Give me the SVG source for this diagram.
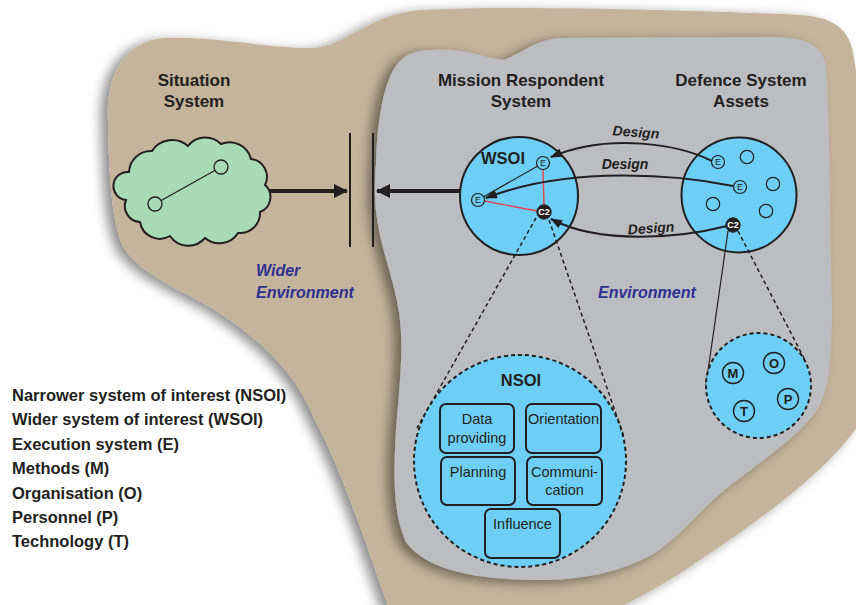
<svg xmlns="http://www.w3.org/2000/svg" width="856" height="605" viewBox="0 0 856 605">
  <defs>
    <style>
      .title { font-family: "Liberation Sans", Arial, sans-serif; font-weight: bold; font-size: 17px; fill: #231f20; text-anchor: middle; }
      .legend { font-family: "Liberation Sans", Arial, sans-serif; font-weight: bold; font-size: 16.5px; fill: #231f20; }
      .env { font-family: "Liberation Sans", Arial, sans-serif; font-weight: bold; font-style: italic; font-size: 16px; fill: #2e3192; }
      .design { font-family: "Liberation Sans", Arial, sans-serif; font-weight: bold; font-style: italic; font-size: 14px; fill: #231f20; text-anchor: middle; }
      .box { fill: #6dcff6; stroke: #231f20; stroke-width: 2; }
      .boxtext { font-family: "Liberation Sans", Arial, sans-serif; font-size: 14.5px; fill: #231f20; text-anchor: middle; }
      .sys { fill: #6dcff6; stroke: #231f20; stroke-width: 2; }
      .dotted { fill: #6dcff6; stroke: #231f20; stroke-width: 2; stroke-dasharray: 4 3; }
      .elem { fill: #6dcff6; stroke: #231f20; stroke-width: 1.2; }
      .elemtext { font-family: "Liberation Sans", Arial, sans-serif; font-size: 9px; fill: #231f20; text-anchor: middle; }
      .c2 { fill: #231f20; stroke: #231f20; stroke-width: 1; }
      .c2text { font-family: "Liberation Sans", Arial, sans-serif; font-weight: bold; font-size: 9px; fill: #ffffff; text-anchor: middle; }
      .mopt { fill: none; stroke: #231f20; stroke-width: 1.4; }
      .mopttext { font-family: "Liberation Sans", Arial, sans-serif; font-weight: bold; font-size: 13px; fill: #231f20; text-anchor: middle; }
      .flow { fill: none; stroke: #231f20; stroke-width: 2; }
      .thick { fill: none; stroke: #231f20; stroke-width: 4; }
      .dash { fill: none; stroke: #231f20; stroke-width: 1.5; stroke-dasharray: 4 3; }
      .thin { fill: none; stroke: #231f20; stroke-width: 1.2; }
      .red { fill: none; stroke: #e8424a; stroke-width: 1.4; }
      .wall { stroke: #231f20; stroke-width: 2; }
    </style>
    <filter id="softShadow" x="-10%" y="-10%" width="125%" height="125%">
      <feGaussianBlur in="SourceAlpha" stdDeviation="6"/>
      <feOffset dx="-7" dy="3" result="blur"/>
      <feFlood flood-color="#000000" flood-opacity="0.45"/>
      <feComposite in2="blur" operator="in"/>
      <feMerge>
        <feMergeNode/>
        <feMergeNode in="SourceGraphic"/>
      </feMerge>
    </filter>
    <marker id="headSmall" markerWidth="12" markerHeight="10" refX="11" refY="4.5" orient="auto" markerUnits="userSpaceOnUse">
      <path d="M0,0 L12,4.5 L0,9 z" fill="#231f20"/>
    </marker>
    <marker id="headBig" markerWidth="14" markerHeight="14" refX="13" refY="7" orient="auto" markerUnits="userSpaceOnUse">
      <path d="M0,0 L14,7 L0,14 z" fill="#231f20"/>
    </marker>
  </defs>

  <rect x="0" y="0" width="856" height="605" fill="#ffffff"/>

  <!-- Wider environment (tan region) -->
  <g id="wider-environment">
    <path filter="url(#softShadow)" fill="#c4b49b"
          d="M108,120 C106,80 122,40 165,38 C220,36 290,52 320,47 C350,42 372,14 420,10 C500,5 700,10 800,15 C830,17 846,26 852,48 C858,75 860,110 862,140 L862,420 C830,470 760,520 700,560 C660,588 632,600 612,612 L390,612 C372,560 342,470 315,420 C295,372 262,340 212,308 C165,282 132,268 121,242 C110,212 109,160 108,120 Z"/>
  </g>

  <!-- Environment (grey region) -->
  <g id="environment">
    <path filter="url(#softShadow)" fill="#bcbdc0"
          d="M376,165 C377,120 384,80 398,63 C408,52 420,50 432,50 C462,47 485,58 503,60 C520,55 535,39 562,38 L772,37 C806,37 822,45 826,66 C830,120 830,250 832,300 C832,360 829,394 816,411 C800,434 770,455 740,478 C702,505 688,530 655,553 C622,572 582,580 540,580 C482,580 428,572 406,542 C392,512 394,470 396,430 C400,382 404,345 399,312 C393,272 376,240 375,195 C375,180 375,172 376,165 Z"/>
  </g>

  <!-- Region labels -->
  <g id="labels">
    <text class="title" x="194" y="86">Situation</text>
    <text class="title" x="194" y="107">System</text>
    <text class="title" x="521" y="86">Mission Respondent</text>
    <text class="title" x="521" y="107">System</text>
    <text class="title" x="741" y="86">Defence System</text>
    <text class="title" x="741" y="107">Assets</text>
    <text class="env" x="256" y="276">Wider</text>
    <text class="env" x="256" y="298">Environment</text>
    <text class="env" x="598" y="298">Environment</text>
  </g>

  <!-- Situation system cloud -->
  <g id="situation-system">
    <path fill="#a8dab5" stroke="#231f20" stroke-width="2"
          d="M129,172 A22,22 0 0 1 152,151 A24,24 0 0 1 188,146 A22,22 0 0 1 221,144 A22,22 0 0 1 251,159 A18,18 0 0 1 265,185 A16,16 0 0 1 260,212 A20,20 0 0 1 238,233 A22,22 0 0 1 205,238 A22,22 0 0 1 170,236 A20,20 0 0 1 140,222 A16,16 0 0 1 126,200 A14,14 0 0 1 129,172 Z"/>
    <line x1="155" y1="204" x2="221" y2="167" class="thin"/>
    <circle cx="155" cy="204" r="7" fill="#a8dab5" stroke="#231f20" stroke-width="1.3"/>
    <circle cx="221" cy="167" r="7" fill="#a8dab5" stroke="#231f20" stroke-width="1.3"/>
  </g>

  <!-- Boundary walls -->
  <g id="boundary">
    <line x1="350" y1="133" x2="350" y2="247" class="wall"/>
    <line x1="373" y1="133" x2="373" y2="247" class="wall"/>
  </g>

  <!-- Wider system of interest -->
  <g id="wsoi">
    <circle cx="519" cy="196" r="59" class="sys"/>
    <text class="title" x="503" y="164" style="font-size:16.5px">WSOI</text>
    <line x1="478" y1="200" x2="543" y2="163" class="thin" stroke-width="1"/>
    <line x1="543" y1="169.5" x2="544" y2="205" class="red"/>
    <line x1="484.5" y1="201" x2="537" y2="211" class="red"/>
    <circle cx="543" cy="163" r="6.5" class="elem"/>
    <text class="elemtext" x="543" y="166.3">E</text>
    <circle cx="478" cy="200" r="6.5" class="elem"/>
    <text class="elemtext" x="478" y="203.3">E</text>
    <circle cx="544" cy="212" r="7.2" class="c2"/>
    <text class="c2text" x="544" y="215.3">C2</text>
  </g>

  <!-- Defence system assets -->
  <g id="defence-assets">
    <circle cx="739" cy="195" r="57.5" class="sys"/>
    <circle cx="718" cy="162" r="6.5" class="elem"/>
    <text class="elemtext" x="718" y="165.3">E</text>
    <circle cx="740" cy="187" r="6.5" class="elem"/>
    <text class="elemtext" x="740" y="190.3">E</text>
    <circle cx="747" cy="157" r="6.7" class="elem"/>
    <circle cx="773" cy="184" r="6.7" class="elem"/>
    <circle cx="713" cy="204" r="6.7" class="elem"/>
    <circle cx="766" cy="211" r="6.7" class="elem"/>
    <circle cx="733" cy="225" r="7.2" class="c2"/>
    <text class="c2text" x="733" y="228.3">C2</text>
  </g>

  <!-- Connectors -->
  <g id="connectors">
    <line x1="269" y1="191" x2="347" y2="191" class="thick" marker-end="url(#headBig)"/>
    <line x1="460" y1="191" x2="377" y2="191" class="thick" marker-end="url(#headBig)"/>
    <path d="M712,161 C680,145 610,132 551,157" class="flow" marker-end="url(#headSmall)"/>
    <path d="M733,186 C680,175 570,165 486,198" class="flow" marker-end="url(#headSmall)"/>
    <path d="M727,226 C680,238 600,245 551,219" class="flow" marker-end="url(#headSmall)"/>
    <line x1="536" y1="218" x2="417" y2="428" class="dash"/>
    <line x1="549" y1="220" x2="624" y2="437" class="dash"/>
    <line x1="728" y1="231" x2="706" y2="385" class="thin"/>
    <line x1="738" y1="231" x2="806" y2="362" class="dash"/>
    <text class="design" x="636" y="137" transform="rotate(4 636 132)">Design</text>
    <text class="design" x="625" y="169">Design</text>
    <text class="design" x="651" y="233" transform="rotate(-4 651 228)">Design</text>
  </g>

  <!-- Narrower system of interest -->
  <g id="nsoi">
    <circle cx="520" cy="461" r="106" class="dotted"/>
    <text class="title" x="521" y="386" style="font-size:16.5px">NSOI</text>
    <g id="box-data">
      <rect x="440" y="404" width="74" height="49" rx="6" class="box"/>
      <text class="boxtext" x="477" y="424">Data</text>
      <text class="boxtext" x="477" y="443">providing</text>
    </g>
    <g id="box-orientation">
      <rect x="526" y="404" width="75" height="49" rx="6" class="box"/>
      <text class="boxtext" x="563.5" y="424">Orientation</text>
    </g>
    <g id="box-planning">
      <rect x="441" y="457" width="74" height="48" rx="6" class="box"/>
      <text class="boxtext" x="478" y="477">Planning</text>
    </g>
    <g id="box-communication">
      <rect x="527" y="457" width="75" height="48" rx="6" class="box"/>
      <text class="boxtext" x="564.5" y="477">Communi-</text>
      <text class="boxtext" x="564.5" y="495">cation</text>
    </g>
    <g id="box-influence">
      <rect x="485" y="509" width="75" height="49" rx="6" class="box"/>
      <text class="boxtext" x="522.5" y="529">Influence</text>
    </g>
  </g>

  <!-- Methods, organisation, personnel, technology -->
  <g id="mopt">
    <circle cx="758.5" cy="385.5" r="52.5" class="dotted"/>
    <circle cx="733" cy="373" r="10.5" class="mopt"/>
    <text class="mopttext" x="733" y="377.7">M</text>
    <circle cx="774" cy="363" r="10.5" class="mopt"/>
    <text class="mopttext" x="774" y="367.7">O</text>
    <circle cx="788" cy="399" r="10.5" class="mopt"/>
    <text class="mopttext" x="788" y="403.7">P</text>
    <circle cx="744" cy="411" r="10.5" class="mopt"/>
    <text class="mopttext" x="744" y="415.7">T</text>
  </g>

  <!-- Legend -->
  <g id="legend">
    <text class="legend" x="12" y="401">Narrower system of interest (NSOI)</text>
    <text class="legend" x="12" y="425">Wider system of interest (WSOI)</text>
    <text class="legend" x="12" y="450">Execution system (E)</text>
    <text class="legend" x="12" y="474">Methods (M)</text>
    <text class="legend" x="12" y="499">Organisation (O)</text>
    <text class="legend" x="12" y="523">Personnel (P)</text>
    <text class="legend" x="12" y="547">Technology (T)</text>
  </g>
</svg>
